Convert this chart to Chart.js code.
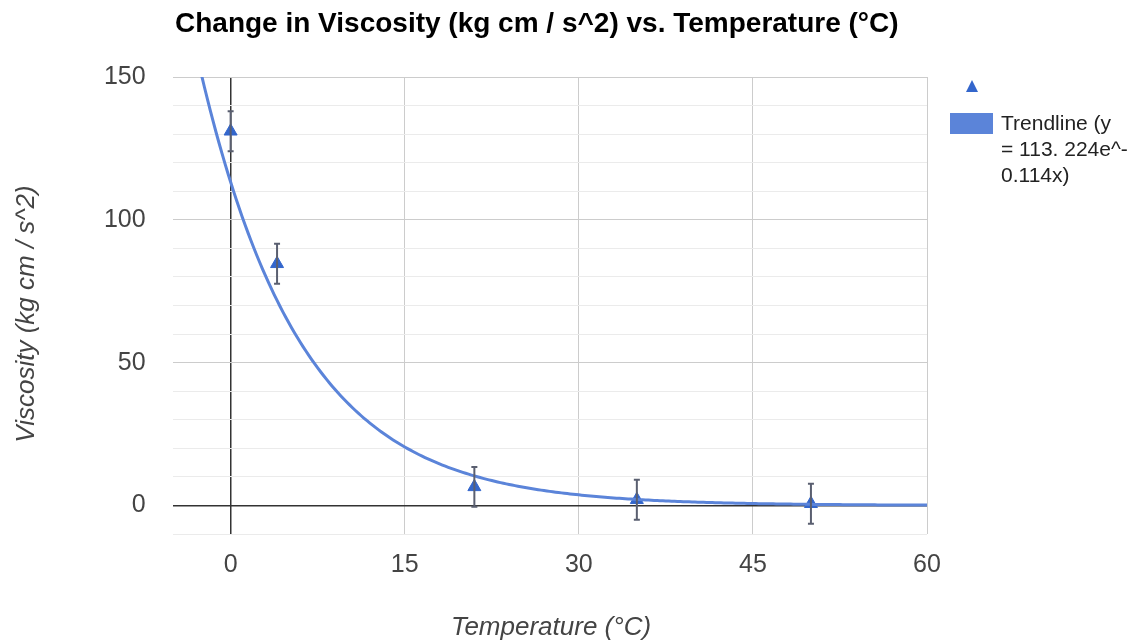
<!DOCTYPE html>
<html>
<head>
<meta charset="UTF-8">
<title>Change in Viscosity vs. Temperature</title>
<script src="https://cdn.jsdelivr.net/npm/chart.js"></script>
<style>
    body, html {
        margin: 0;
        padding: 0;
        background: #fff;
    }
    #wrap {
        width: 1143px;
        height: 642px;
    }
</style>
</head>
<body>
<div id="wrap">
    <canvas id="viscChart" width="1143" height="642"></canvas>
</div>

<script>
    // measured points
    const temps = [0, 4, 21, 35, 50];
    const viscosity = [131, 84.6, 6.5, 2, 0.6];
    const errors = [7, 7, 7, 7, 7];

    // trendline coefficients as printed in the legend: y = 113.224 e^(-0.114x)
    const trendA = 113.224;
    const trendB = -0.114;

    const xTicks = [0, 15, 30, 45, 60];
    const yLabelTicks = [0, 50, 100, 150];

    const titleText = 'Change in Viscosity (kg cm / s^2) vs. Temperature (°C)';
    const xTitle = 'Temperature (°C)';
    const yTitle = 'Viscosity (kg cm / s^2)';
    const legendLines = ['Trendline (y', '= 113. 224e^-', '0.114x)'];

    const pointBlue = '#3366cc';
    const trendBlue = '#5b84d9';
    const fontFam = '"Liberation Sans", Arial, sans-serif';

    const trendPoints = [];
    for (let x = -5; x <= 60; x += 0.25) {
        trendPoints.push({ x: x, y: trendA * Math.exp(trendB * x) });
    }

    const extras = {
        id: 'extras',
        afterDatasetsDraw(chart) {
            const ctx = chart.ctx;
            const xs = chart.scales.x;
            const ys = chart.scales.y;
            ctx.save();
            // error bars
            ctx.strokeStyle = '#5a5f70';
            ctx.lineWidth = 2;
            temps.forEach((t, i) => {
                const px = xs.getPixelForValue(t);
                const top = ys.getPixelForValue(viscosity[i] + errors[i]);
                const bot = ys.getPixelForValue(viscosity[i] - errors[i]);
                ctx.beginPath();
                ctx.moveTo(px, top); ctx.lineTo(px, bot);
                ctx.moveTo(px - 3, top); ctx.lineTo(px + 3, top);
                ctx.moveTo(px - 3, bot); ctx.lineTo(px + 3, bot);
                ctx.stroke();
            });
            ctx.restore();
        },
        afterDraw(chart) {
            const ctx = chart.ctx;
            ctx.save();
            // title
            ctx.fillStyle = '#000';
            ctx.font = 'bold 28px ' + fontFam;
            ctx.textAlign = 'left';
            ctx.textBaseline = 'alphabetic';
            ctx.fillText(titleText, 175, 32);

            // axis titles
            ctx.fillStyle = '#444';
            ctx.font = 'italic 26px ' + fontFam;
            ctx.textAlign = 'center';
            ctx.textBaseline = 'middle';
            ctx.fillText(xTitle, 551, 628);
            ctx.translate(27, 314);
            ctx.rotate(-Math.PI / 2);
            ctx.fillText(yTitle, 0, 0);
            ctx.restore();

            // legend
            ctx.save();
            ctx.fillStyle = pointBlue;
            ctx.beginPath();
            ctx.moveTo(972, 80);
            ctx.lineTo(978, 92);
            ctx.lineTo(966, 92);
            ctx.closePath();
            ctx.fill();
            ctx.fillStyle = trendBlue;
            ctx.fillRect(950, 113, 43, 21);
            ctx.fillStyle = '#222';
            ctx.font = '21px ' + fontFam;
            ctx.textAlign = 'left';
            ctx.textBaseline = 'middle';
            legendLines.forEach((line, i) => {
                ctx.fillText(line, 1001, 124 + i * 26);
            });
            ctx.restore();
        }
    };

    const ctx = document.getElementById('viscChart').getContext('2d');
    const chart = new Chart(ctx, {
        type: 'scatter',
        data: {
            datasets: [
                {
                    label: 'Viscosity',
                    data: temps.map((t, i) => ({ x: t, y: viscosity[i] })),
                    pointStyle: 'triangle',
                    pointRadius: 7.5,
                    backgroundColor: pointBlue,
                    borderColor: pointBlue,
                    borderWidth: 1,
                    order: 2
                },
                {
                    label: 'Trendline',
                    type: 'line',
                    data: trendPoints,
                    borderColor: trendBlue,
                    borderWidth: 3,
                    pointRadius: 0,
                    fill: false,
                    tension: 0,
                    order: 1
                }
            ]
        },
        options: {
            responsive: false,
            animation: false,
            layout: {
                padding: { top: 77, right: 216, left: 0, bottom: 0 }
            },
            plugins: {
                legend: { display: false },
                title: { display: false },
                tooltip: { enabled: false }
            },
            scales: {
                x: {
                    type: 'linear',
                    min: -5,
                    max: 60,
                    afterBuildTicks: (scale) => {
                        scale.ticks = xTicks.map(v => ({ value: v }));
                    },
                    afterFit: (scale) => { scale.height = 108; },
                    border: { display: false },
                    grid: {
                        drawTicks: false,
                        color: (c) => c.tick && c.tick.value === 0 ? '#333' : '#ccc',
                        lineWidth: (c) => c.tick && c.tick.value === 0 ? 1.5 : 1
                    },
                    ticks: {
                        autoSkip: false,
                        maxRotation: 0,
                        padding: 16,
                        color: '#444',
                        font: { family: fontFam, size: 25 }
                    }
                },
                y: {
                    min: -10,
                    max: 150,
                    afterFit: (scale) => { scale.width = 172.6; },
                    border: { display: false },
                    grid: {
                        drawTicks: false,
                        color: (c) => {
                            if (!c.tick) return '#eee';
                            if (c.tick.value === 0) return '#333';
                            return c.tick.value % 50 === 0 ? '#ccc' : '#ebebeb';
                        },
                        lineWidth: (c) => c.tick && c.tick.value === 0 ? 1.5 : 1
                    },
                    ticks: {
                        autoSkip: false,
                        stepSize: 10,
                        padding: 27,
                        color: '#444',
                        font: { family: fontFam, size: 25 },
                        callback: (v) => yLabelTicks.includes(v) ? String(v) : ''
                    }
                }
            }
        },
        plugins: [extras]
    });
</script>
</body>
</html>
